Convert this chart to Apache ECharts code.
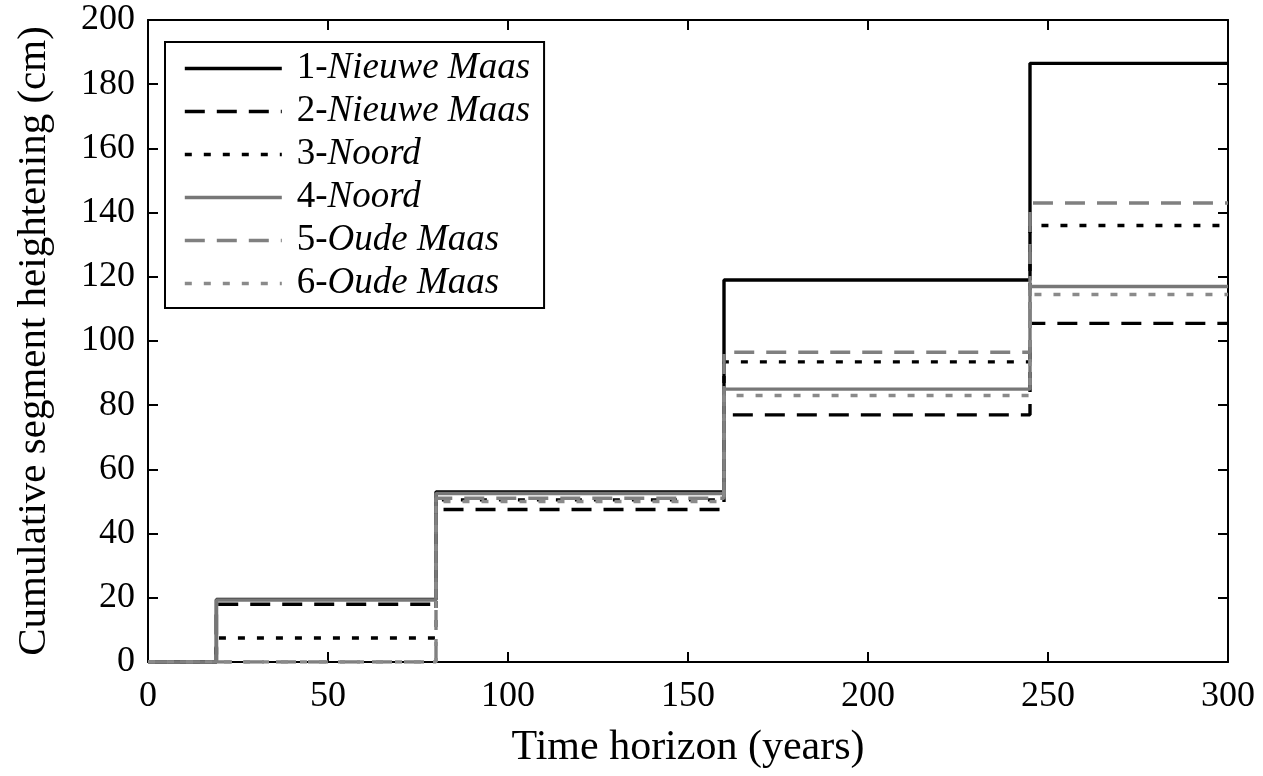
<!DOCTYPE html>
<html>
<head>
<meta charset="utf-8">
<script src="https://cdn.jsdelivr.net/npm/echarts@6/dist/echarts.min.js"></script>
<style>
  html, body { margin: 0; padding: 0; background: #fff; }
  #chart { width: 1263px; height: 776px; }
</style>
</head>
<body>
<div id="chart"></div>
<script>
// step times (years) - last one only closes the final step
var times = [0, 19, 80, 160, 245, 300];

var nieuweMaas1 = [0, 19.5, 53, 119, 186.5, 186.5];
var nieuweMaas2 = [0, 18, 47.5, 77, 105.5, 105.5];
var noord3 = [0, 7.5, 50.5, 93.5, 136, 136];
var noord4 = [0, 19.3, 52.5, 85, 117, 117];
var oudeMaas5 = [0, 0, 51, 96.5, 143, 143];
var oudeMaas6 = [0, 0, 50, 83, 114.5, 114.5];

var xTicks = [0, 50, 100, 150, 200, 250, 300];
var yTicks = [0, 20, 40, 60, 80, 100, 120, 140, 160, 180, 200];

var font = '"Liberation Serif", "DejaVu Serif", serif';

function pairs(vals) {
  return times.map(function (t, i) { return [t, vals[i]]; });
}

function mkSeries(name, vals, color, dash) {
  return {
    name: name,
    type: 'line',
    step: 'end',
    symbol: 'none',
    data: pairs(vals),
    lineStyle: { color: color, width: 3.4, type: dash, cap: 'butt' },
    itemStyle: { color: color },
    animation: false
  };
}

var chart = echarts.init(document.getElementById('chart'));

var option = {
  backgroundColor: '#fff',
  grid: { left: 148, right: 35, top: 20, bottom: 114 },
  legend: {
    orient: 'vertical',
    left: 165,
    top: 42,
    padding: [8, 14, 6, 18],
    backgroundColor: '#fff',
    borderColor: '#000',
    borderWidth: 2,
    borderRadius: 0,
    itemWidth: 97,
    itemHeight: 14,
    itemGap: 6,
    selectedMode: false,
    itemStyle: { opacity: 0 },
    lineStyle: { width: 3.6 },
    textStyle: {
      fontFamily: font,
      fontSize: 37,
      color: '#000',
      padding: [0, 0, 0, 10],
      rich: {
        n: { fontFamily: font, fontSize: 37, color: '#000' },
        i: { fontFamily: font, fontSize: 37, color: '#000', fontStyle: 'italic' }
      }
    },
    formatter: function (name) {
      var k = name.indexOf('-');
      return '{n|' + name.slice(0, k + 1) + '}{i|' + name.slice(k + 1) + '}';
    }
  },
  xAxis: [{
    type: 'value',
    min: 0,
    max: 300,
    interval: 50,
    name: 'Time horizon (years)',
    nameLocation: 'middle',
    nameGap: 65,
    nameTextStyle: { fontFamily: font, fontSize: 42, color: '#000' },
    axisLine: { show: true, onZero: false, lineStyle: { color: '#000', width: 2 } },
    axisTick: { show: true, inside: true, length: 10, lineStyle: { color: '#000', width: 2 } },
    axisLabel: {
      fontFamily: font, fontSize: 36, color: '#000', margin: 17,
      formatter: function (v) { return xTicks.indexOf(v) >= 0 ? String(v) : ''; }
    },
    splitLine: { show: false }
  }, {
    type: 'value',
    position: 'top',
    min: 0,
    max: 300,
    interval: 50,
    axisLine: { show: true, onZero: false, lineStyle: { color: '#000', width: 2 } },
    axisTick: { show: true, inside: true, length: 10, lineStyle: { color: '#000', width: 2 } },
    axisLabel: { show: false },
    splitLine: { show: false }
  }],
  yAxis: [{
    type: 'value',
    min: 0,
    max: 200,
    interval: 20,
    name: 'Cumulative segment heightening (cm)',
    nameLocation: 'middle',
    nameGap: 93,
    nameTextStyle: { fontFamily: font, fontSize: 41, color: '#000' },
    axisLine: { show: true, onZero: false, lineStyle: { color: '#000', width: 2 } },
    axisTick: { show: true, inside: true, length: 10, lineStyle: { color: '#000', width: 2 } },
    axisLabel: {
      fontFamily: font, fontSize: 36, color: '#000', margin: 13,
      formatter: function (v) { return yTicks.indexOf(v) >= 0 ? String(v) : ''; }
    },
    splitLine: { show: false }
  }, {
    type: 'value',
    position: 'right',
    min: 0,
    max: 200,
    interval: 20,
    axisLine: { show: true, onZero: false, lineStyle: { color: '#000', width: 2 } },
    axisTick: { show: true, inside: true, length: 10, lineStyle: { color: '#000', width: 2 } },
    axisLabel: { show: false },
    splitLine: { show: false }
  }],
  series: [
    mkSeries('1-Nieuwe Maas', nieuweMaas1, '#000', 'solid'),
    mkSeries('2-Nieuwe Maas', nieuweMaas2, '#000', [20, 12]),
    mkSeries('3-Noord', noord3, '#000', [7, 12]),
    mkSeries('4-Noord', noord4, '#777', 'solid'),
    mkSeries('5-Oude Maas', oudeMaas5, '#808080', [20, 12]),
    mkSeries('6-Oude Maas', oudeMaas6, '#8a8a8a', [7, 12])
  ]
};

chart.setOption(option);
window.addEventListener('resize', function () { chart.resize(); });
</script>
</body>
</html>
